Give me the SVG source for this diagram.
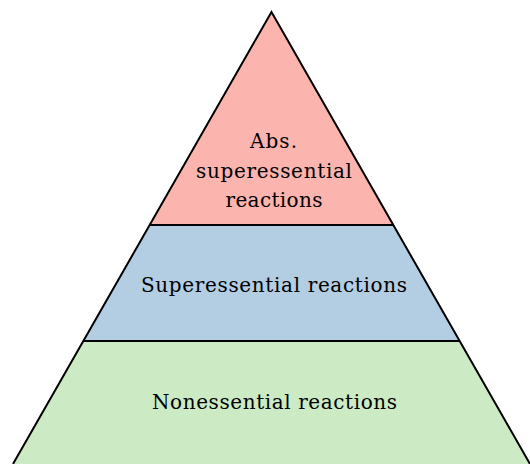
<svg xmlns="http://www.w3.org/2000/svg" width="530" height="464" viewBox="0 0 530 464">
<style>
.band{stroke:none}
.lbl{font-family:"DejaVu Serif","Liberation Serif",serif;font-size:20px;fill:#000;text-anchor:middle}
.edge{fill:none;stroke:#000;stroke-width:2;stroke-linejoin:miter}
</style>
<rect width="530" height="464" fill="#fff"/>
<g id="nonessential">
<polygon class="band" fill="#ccebc5" points="83.6,341 459.4,341 530,464 13,464"/>
<text class="lbl" x="274.5" y="409" textLength="245" lengthAdjust="spacing">Nonessential reactions</text>
</g>
<g id="superessential">
<polygon class="band" fill="#b3cde3" points="149.9,225 393.1,225 459.4,341 83.6,341"/>
<text class="lbl" x="274" y="292" textLength="266" lengthAdjust="spacing">Superessential reactions</text>
</g>
<g id="abs-superessential">
<polygon class="band" fill="#fbb4ae" points="271.5,12 393.1,225 149.9,225"/>
<text class="lbl" x="273.5" y="148" textLength="47" lengthAdjust="spacing">Abs.</text>
<text class="lbl" x="274" y="178" textLength="156" lengthAdjust="spacing">superessential</text>
<text class="lbl" x="274" y="207" textLength="97" lengthAdjust="spacing">reactions</text>
</g>
<g id="connectors">
<line class="edge" x1="149.9" y1="225" x2="393.1" y2="225"/>
<line class="edge" x1="83.6" y1="341" x2="459.4" y2="341"/>
<polyline class="edge" points="13,464 271.5,12 530,464"/>
</g>
</svg>
